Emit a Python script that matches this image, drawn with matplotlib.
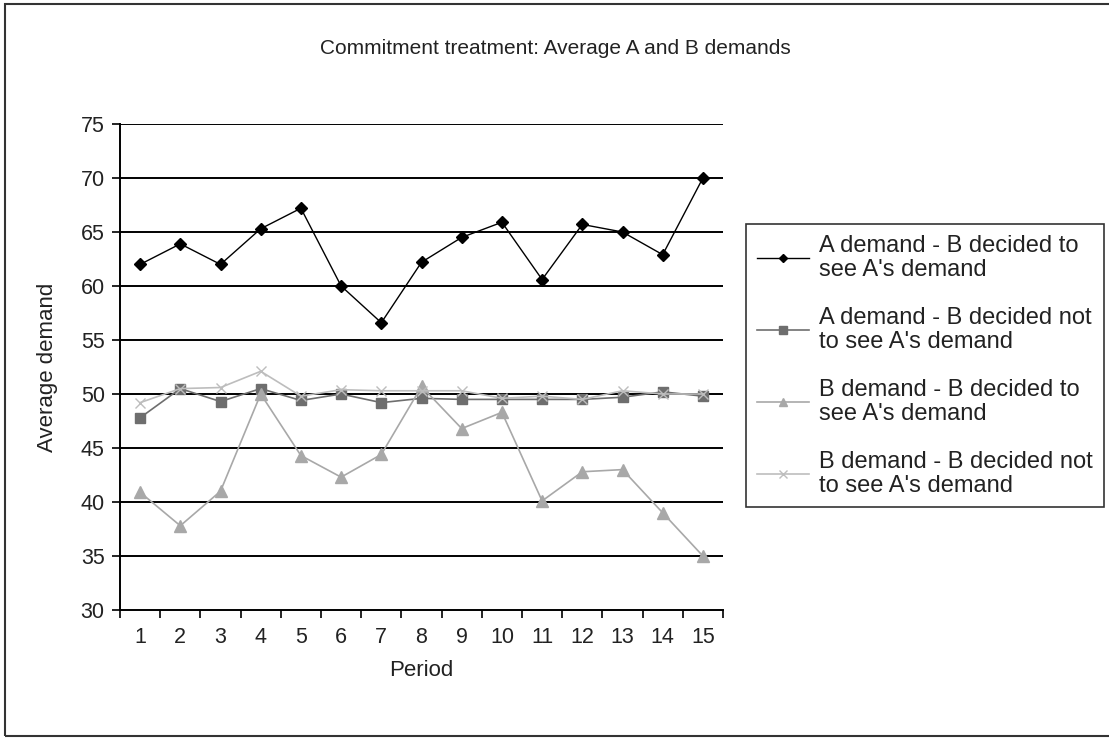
import matplotlib

matplotlib.use("Agg")
import matplotlib.pyplot as plt
from matplotlib.patches import Rectangle

periods = list(range(1, 16))
a_see = [62.0, 63.9, 62.0, 65.3, 67.2, 60.0, 56.6, 62.2, 64.5, 65.9, 60.6, 65.7, 65.0, 62.9, 70.0]
a_not_see = [47.8, 50.5, 49.3, 50.5, 49.4, 50.0, 49.2, 49.6, 49.5, 49.5, 49.5, 49.5, 49.7, 50.2, 49.8]
b_see = [40.9, 37.8, 41.0, 50.0, 44.3, 42.3, 44.4, 50.7, 46.8, 48.3, 40.1, 42.8, 43.0, 39.0, 35.0]
b_not_see = [49.2, 50.5, 50.6, 52.1, 49.8, 50.4, 50.3, 50.3, 50.3, 49.6, 49.8, 49.5, 50.3, 50.0, 50.0]

labels = [
    "A demand - B decided to\nsee A's demand",
    "A demand - B decided not\nto see A's demand",
    "B demand - B decided to\nsee A's demand",
    "B demand - B decided not\nto see A's demand",
]
y_ticks = [30, 35, 40, 45, 50, 55, 60, 65, 70, 75]

plt.rcParams["font.family"] = ["Liberation Sans", "DejaVu Sans"]

W, H = 1109, 740
fig = plt.figure(figsize=(W / 100, H / 100), dpi=100)
ax = fig.add_axes([120 / W, 1 - 610 / H, 603 / W, 486 / H])

# horizontal gridlines, Excel style
for y in y_ticks[1:]:
    ax.axhline(y, color="black", lw=1.4, zorder=1)

ax.plot(periods, a_see, color="black", lw=1.0, marker="D", ms=6,
        mfc="black", mec="black", label=labels[0], zorder=3)
ax.plot(periods, a_not_see, color="#6e6e6e", lw=1.2, marker="s", ms=7,
        mfc="#6e6e6e", mec="#6e6e6e", label=labels[1], zorder=3)
ax.plot(periods, b_see, color="#a8a8a8", lw=1.2, marker="^", ms=8,
        mfc="#a8a8a8", mec="#a8a8a8", label=labels[2], zorder=3)
ax.plot(periods, b_not_see, color="#bdbdbd", lw=1.2, marker="x", ms=7,
        mew=1.0, label=labels[3], zorder=3)

ax.set_xlim(0.5, 15.5)
ax.set_ylim(30, 75)
for side in ("top", "right"):
    ax.spines[side].set_visible(False)
ax.spines["left"].set_linewidth(1.4)
ax.spines["bottom"].set_linewidth(1.4)

ax.set_yticks(y_ticks)
ax.tick_params(axis="y", direction="out", length=6, width=1.2, labelsize=15.5,
               labelcolor="#222222", pad=5)

# category ticks sit between periods; labels at the period centres
ax.set_xticks([p + 0.5 for p in [0] + periods])
ax.set_xticklabels([])
ax.tick_params(axis="x", which="major", direction="out", length=6, width=1.2)
ax.set_xticks(periods, minor=True)
ax.set_xticklabels([str(p) for p in periods], minor=True)
ax.tick_params(axis="x", which="minor", length=0, labelsize=15.5,
               labelcolor="#222222", pad=12)

ax.set_xlabel("Period", fontsize=16, color="#222222", labelpad=9)
ax.set_ylabel("Average demand", fontsize=16, color="#222222", labelpad=16)

fig.text(555 / W, 1 - 48 / H, "Commitment treatment: Average A and B demands",
         ha="center", va="center", fontsize=15, color="#222222")

leg = ax.legend(loc="upper left", bbox_to_anchor=(746 / W, 1 - 224 / H),
                bbox_transform=fig.transFigure, fontsize=17, frameon=True,
                fancybox=False, edgecolor="black", handlelength=2.2,
                handletextpad=0.45, borderpad=0.45, labelspacing=1.1,
                borderaxespad=0, markerscale=0.75)
leg.get_frame().set_linewidth(1.2)
for t in leg.get_texts():
    t.set_linespacing(1.12)
    t.set_color("#222222")

fig.patches.append(Rectangle((5 / W, 4 / H), 1.1, 732 / H,
                             transform=fig.transFigure, fill=False,
                             edgecolor="#333333", lw=1.5))

fig.savefig("out.png", dpi=100)
